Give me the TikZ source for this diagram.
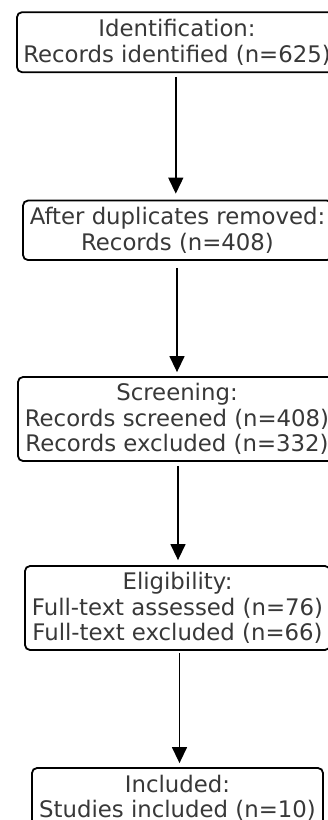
\documentclass[tikz,border=0pt]{standalone}
\usepackage{fontspec}
\setmainfont{DejaVu Sans}
\usetikzlibrary{arrows.meta}
\definecolor{txtgray}{HTML}{383838}
\begin{document}
\begin{tikzpicture}[x=1pt,y=-1pt,
  box/.style={draw=black, line width=1.8pt, rounded corners=5pt, align=center,
    text=txtgray, inner sep=0pt, font=\fontsize{22.8}{25.5}\selectfont},
  arr/.style={line width=1.4pt, -{Triangle[width=15pt,length=16pt]}}]
\useasboundingbox (0,0) rectangle (328,820);
\clip (0,0) rectangle (328,820);
\fill[white] (0,0) rectangle (328,820);
\node[box, minimum width=320pt, minimum height=60pt] (b1) at (177,42.2)
  {Identification:\\Records identified (n=625)};
\node[box, minimum width=309pt, minimum height=59.5pt] (b2) at (177.5,230.3)
  {After duplicates removed:\\Records (n=408)};
\node[box, minimum width=318pt, minimum height=84pt] (b3) at (177,419)
  {Screening:\\Records screened (n=408)\\Records excluded (n=332)};
\node[box, minimum width=305pt, minimum height=84pt] (b4) at (177.5,608)
  {Eligibility:\\Full-text assessed (n=76)\\Full-text excluded (n=66)};
\node[box, minimum width=291pt, minimum height=60pt] (b5) at (177.5,798)
  {Included:\\Studies included (n=10)};
\draw[arr, shorten <=3.8pt, shorten >=6pt] ([xshift=-1.2pt]b1.south) -- ([xshift=-1.7pt]b2.north);
\draw[arr, shorten <=7pt, shorten >=4pt] ([xshift=-0.5pt]b2.south) -- ([xshift=0pt]b3.north);
\draw[arr, shorten <=4pt, shorten >=5pt] ([xshift=1pt]b3.south) -- ([xshift=0.5pt]b4.north);
\draw[arr, shorten <=2pt, shorten >=4pt] ([xshift=2pt]b4.south) -- ([xshift=2pt]b5.north);
\end{tikzpicture}
\end{document}
